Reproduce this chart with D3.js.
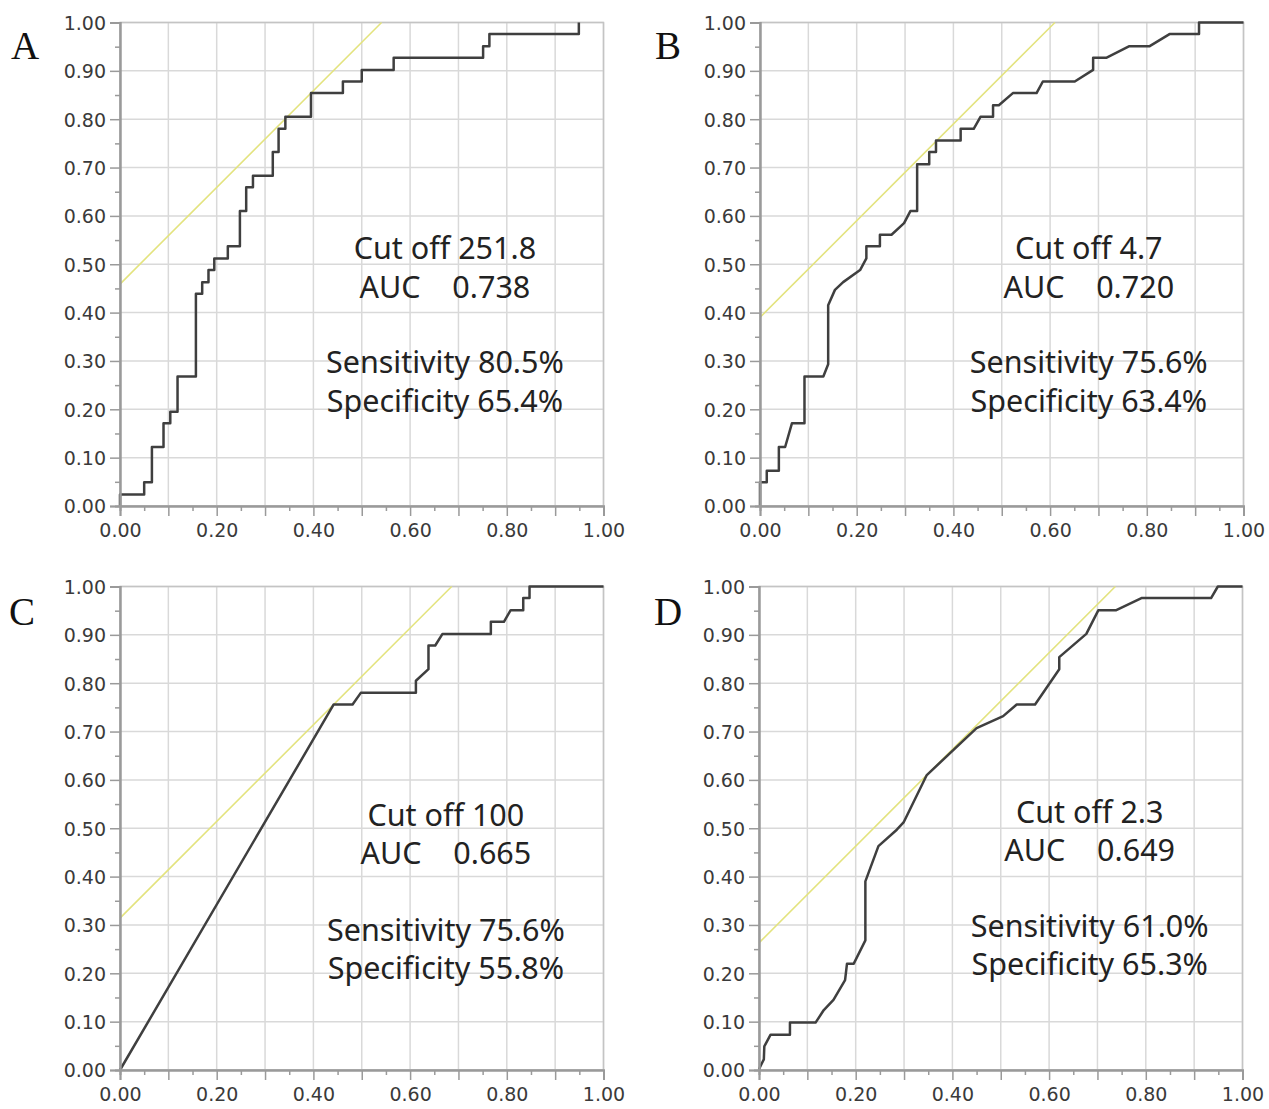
<!DOCTYPE html>
<html>
<head>
<meta charset="utf-8">
<script src="https://cdn.jsdelivr.net/npm/d3@7"></script>
<style>
  body { margin: 0; background: #fff; }
  .tick text { font-family: "DejaVu Sans", Verdana, sans-serif; font-size: 19px; fill: #3a3a3a; }
  .note { font-family: "Noto Sans", sans-serif; font-size: 30.5px; fill: #222; white-space: pre; }
  .panel-label { font-family: "Liberation Serif", "Times New Roman", serif; font-size: 39px; fill: #111; }
</style>
</head>
<body>
<script>
// panel keys and the printed results
var panelKeys = ["A", "B", "C", "D"];
var cutoffs = ["251.8", "4.7", "100", "2.3"];
var aucs = ["0.738", "0.720", "0.665", "0.649"];
var sensitivity = [80.5, 75.6, 75.6, 61.0];
var specificity = [65.4, 63.4, 55.8, 65.3];

// ROC curves: [1 - specificity, sensitivity]
var curveA = [[0,0],[0,0.024],[0.050,0.024],[0.050,0.049],[0.066,0.049],[0.066,0.122],[0.090,0.122],[0.090,0.171],
  [0.104,0.171],[0.104,0.195],[0.119,0.195],[0.119,0.268],[0.157,0.268],[0.157,0.439],[0.170,0.439],[0.170,0.463],
  [0.183,0.463],[0.183,0.488],[0.195,0.488],[0.195,0.512],[0.223,0.512],[0.223,0.537],[0.248,0.537],[0.248,0.610],
  [0.261,0.610],[0.261,0.659],[0.275,0.659],[0.275,0.683],[0.316,0.683],[0.316,0.732],[0.328,0.732],[0.328,0.780],
  [0.342,0.780],[0.342,0.805],[0.395,0.805],[0.395,0.854],[0.461,0.854],[0.461,0.878],[0.500,0.878],[0.500,0.902],
  [0.566,0.902],[0.566,0.927],[0.751,0.927],[0.751,0.951],[0.764,0.951],[0.764,0.976],[0.949,0.976],[0.949,1.0]];
var curveB = [[0,0],[0,0.049],[0.014,0.049],[0.014,0.073],[0.039,0.073],[0.039,0.122],[0.052,0.122],[0.066,0.171],
  [0.092,0.171],[0.092,0.268],[0.131,0.268],[0.141,0.293],[0.141,0.415],[0.155,0.447],[0.172,0.463],[0.207,0.488],
  [0.220,0.512],[0.220,0.537],[0.248,0.537],[0.248,0.561],[0.272,0.561],[0.298,0.585],[0.311,0.610],[0.325,0.610],
  [0.325,0.707],[0.350,0.707],[0.350,0.732],[0.364,0.732],[0.364,0.756],[0.415,0.756],[0.415,0.780],[0.442,0.780],
  [0.456,0.805],[0.482,0.805],[0.482,0.829],[0.494,0.829],[0.523,0.854],[0.572,0.854],[0.585,0.878],[0.651,0.878],
  [0.689,0.902],[0.689,0.927],[0.716,0.927],[0.764,0.951],[0.806,0.951],[0.847,0.976],[0.908,0.976],[0.908,1.0],[1.0,1.0]];
var curveC = [[0,0],[0.442,0.756],[0.481,0.756],[0.498,0.780],[0.612,0.780],[0.612,0.805],[0.638,0.829],[0.638,0.878],
  [0.652,0.878],[0.667,0.902],[0.767,0.902],[0.767,0.927],[0.794,0.927],[0.808,0.951],[0.834,0.951],[0.834,0.976],
  [0.847,0.976],[0.847,1.0],[1.0,1.0]];
var curveD = [[0,0],[0.002,0.006],[0.010,0.022],[0.011,0.049],[0.024,0.073],[0.064,0.073],[0.064,0.098],[0.117,0.098],
  [0.134,0.124],[0.154,0.145],[0.178,0.186],[0.182,0.220],[0.196,0.220],[0.220,0.268],[0.220,0.390],[0.247,0.463],
  [0.285,0.497],[0.299,0.512],[0.347,0.610],[0.450,0.707],[0.505,0.732],[0.533,0.756],[0.571,0.756],[0.621,0.829],
  [0.621,0.854],[0.677,0.902],[0.702,0.951],[0.739,0.951],[0.791,0.976],[0.935,0.976],[0.949,1.0],[1.0,1.0]];
var curves = [curveA, curveB, curveC, curveD];

var yTicks = d3.range(0, 1.0001, 0.1);
var xTicks = d3.range(0, 1.0001, 0.1);
var minorTicks = d3.range(0.05, 1, 0.1);

// layout of the four panels (pixels)
var layout = [
  {left: 120, top: 22.5, labelX: 11, labelY: 59, noteX: 0.672, noteY: [0.533, 0.452, 0.297, 0.218]},
  {left: 760, top: 22.5, labelX: 655, labelY: 59, noteX: 0.680, noteY: [0.533, 0.452, 0.297, 0.218]},
  {left: 120, top: 586.5, labelX: 9, labelY: 625, noteX: 0.674, noteY: [0.528, 0.449, 0.289, 0.210]},
  {left: 759, top: 586.5, labelX: 654, labelY: 625, noteX: 0.684, noteY: [0.534, 0.455, 0.298, 0.219]}
];
var size = 483.5;

var svg = d3.select("body").append("svg")
  .attr("width", 1269)
  .attr("height", 1109);

panelKeys.forEach(function(key, i){
  var lay = layout[i];
  var x = d3.scaleLinear().domain([0, 1]).range([0, size]);
  var y = d3.scaleLinear().domain([0, 1]).range([size, 0]);

  svg.append("text")
    .attr("class", "panel-label")
    .attr("x", lay.labelX)
    .attr("y", lay.labelY)
    .text(key);

  var g = svg.append("g").attr("transform", "translate(" + lay.left + "," + lay.top + ")");

  // grid
  g.selectAll(".vgrid").data(xTicks).enter().append("line")
    .attr("x1", function(d){ return x(d); }).attr("x2", function(d){ return x(d); })
    .attr("y1", 0).attr("y2", size)
    .attr("stroke", "#d9d9d9").attr("stroke-width", 1.5);
  g.selectAll(".hgrid").data(yTicks).enter().append("line")
    .attr("y1", function(d){ return y(d); }).attr("y2", function(d){ return y(d); })
    .attr("x1", 0).attr("x2", size)
    .attr("stroke", "#d9d9d9").attr("stroke-width", 1.5);
  g.append("rect")
    .attr("width", size).attr("height", size)
    .attr("fill", "none").attr("stroke", "#c4c4c4").attr("stroke-width", 1.5);

  // youden line through the cut off point, slope 1
  var b = sensitivity[i] / 100 - (1 - specificity[i] / 100);
  var yellow = [[0, b], [1 - b, 1]];
  g.append("path")
    .attr("d", d3.line().x(function(d){ return x(d[0]); }).y(function(d){ return y(d[1]); })(yellow))
    .attr("fill", "none").attr("stroke", "#e3e37e").attr("stroke-width", 1.6);

  // roc curve
  g.append("path")
    .datum(curves[i])
    .attr("d", d3.line().x(function(d){ return x(d[0]); }).y(function(d){ return y(d[1]); }))
    .attr("fill", "none").attr("stroke", "#3f3f3f").attr("stroke-width", 2.5)
    .attr("stroke-linejoin", "round");

  // axes
  var yAxis = g.append("g")
    .call(d3.axisLeft(y).tickValues(yTicks).tickSize(10).tickPadding(4).tickFormat(d3.format(".2f")));
  g.append("g")
    .call(d3.axisLeft(y).tickValues(minorTicks).tickSize(5).tickFormat(""));
  var xAxis = g.append("g")
    .attr("transform", "translate(0," + size + ")")
    .call(d3.axisBottom(x).tickValues(xTicks).tickSize(10).tickPadding(6)
      .tickFormat(function(d){ return Math.round(d * 10) % 2 === 0 ? d3.format(".2f")(d) : ""; }));
  g.append("g")
    .attr("transform", "translate(0," + size + ")")
    .call(d3.axisBottom(x).tickValues(minorTicks).tickSize(5).tickFormat(""));
  g.selectAll(".domain").attr("stroke", "#9a9a9a").attr("stroke-width", 2);
  g.selectAll(".tick line").attr("stroke", "#9a9a9a").attr("stroke-width", 1.5);
  yAxis.selectAll(".tick text").attr("dy", "0.36em");
  xAxis.selectAll(".tick text").attr("dy", "0.78em");

  // notes
  var lines = [
    "Cut off " + cutoffs[i],
    "AUC    " + aucs[i],
    "Sensitivity " + sensitivity[i].toFixed(1) + "%",
    "Specificity " + specificity[i].toFixed(1) + "%"
  ];
  g.selectAll(".note").data(lines).enter().append("text")
    .attr("class", "note")
    .attr("x", x(lay.noteX))
    .attr("y", function(d, j){ return y(lay.noteY[j]); })
    .attr("dy", "0.36em")
    .attr("text-anchor", "middle")
    .text(function(d){ return d; });
});
</script>
</body>
</html>
